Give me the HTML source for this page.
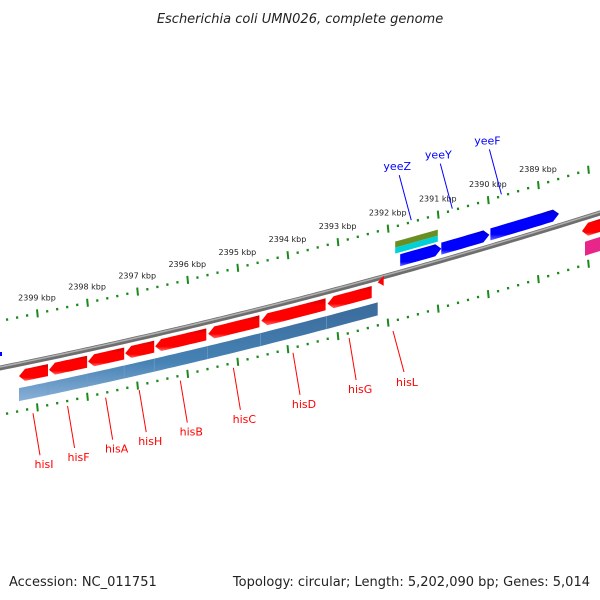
<!DOCTYPE html>
<html><head><meta charset="utf-8"><style>
body{margin:0;background:#fff;width:600px;height:600px;overflow:hidden}
svg{display:block;font-family:"DejaVu Sans","Liberation Sans",sans-serif}
</style></head><body>
<svg id="map" width="600" height="600" viewBox="0 0 600 600">
<defs>
<linearGradient id="gRed" x1="0" y1="0" x2="0" y2="1"><stop offset="0" stop-color="#c80000"/><stop offset="0.25" stop-color="#ff0000"/><stop offset="0.8" stop-color="#ff0000"/><stop offset="1" stop-color="#ff6a6a"/></linearGradient>
<linearGradient id="gBlue" x1="0" y1="0" x2="0" y2="1"><stop offset="0" stop-color="#0000c8"/><stop offset="0.25" stop-color="#0000ff"/><stop offset="0.8" stop-color="#0000ff"/><stop offset="1" stop-color="#6a6aff"/></linearGradient>
<linearGradient id="gSteel" x1="0" y1="0" x2="0" y2="1"><stop offset="0" stop-color="#3a6a9a"/><stop offset="0.6" stop-color="#4682b4"/><stop offset="1" stop-color="#8ab0d8"/></linearGradient>
</defs>
<text x="300" y="23" text-anchor="middle" font-size="13" font-style="italic" fill="#222">Escherichia coli UMN026, complete genome</text>
<text x="9" y="586" font-size="13" fill="#222">Accession: NC_011751</text>
<text x="590" y="586" text-anchor="end" font-size="13" fill="#222">Topology: circular; Length: 5,202,090 bp; Genes: 5,014</text>
<g id="layer"></g>
</svg>
<script>
// data
const revGeneNames = ["hisI","hisF","hisA","hisH","hisB","hisC","hisD","hisG"];
const revGeneStart = [2399.38,2398.78,2398.0,2397.26,2396.66,2395.6,2394.54,2393.22];
const revGeneEnd   = [2398.78,2398.0,2397.26,2396.66,2395.62,2394.56,2393.24,2392.32];
const fwdGeneNames = ["yeeZ","yeeY","yeeF"];
const fwdGeneStart = [2391.75,2390.93,2389.95];
const fwdGeneEnd   = [2390.93,2389.97,2388.58];
const tickLabels = [2399,2398,2397,2396,2395,2394,2393,2392,2391,2390,2389];

const NS="http://www.w3.org/2000/svg";
const layer=document.getElementById('layer');
const A=0.2017,B=0.0000944;
function xk(k){return 37+50.1*(2399-k);}
function yb(x){return 368-A*x-B*x*x;}
function mk(tag,attrs){const e=document.createElementNS(NS,tag);for(const k in attrs)e.setAttribute(k,attrs[k]);layer.appendChild(e);return e;}
function curvePts(x1,x2,o){const p=[];const n=Math.max(2,Math.ceil(Math.abs(x2-x1)/6));for(let i=0;i<=n;i++){const x=x1+(x2-x1)*i/n;p.push([x,yb(x)+o]);}return p;}
function band(x1,x2,o1,o2){const a=curvePts(x1,x2,o1),b=curvePts(x2,x1,o2);return a.concat(b).map(p=>p[0].toFixed(1)+","+p[1].toFixed(1)).join(" ");}
function arrowLeft(x1,x2,o1,o2){const t=6;const m=(o1+o2)/2;const a=curvePts(x1+t,x2,o1),b=curvePts(x2,x1+t,o2);const pts=a.concat(b);pts.push([x1,yb(x1)+m]);return pts.map(p=>p[0].toFixed(1)+","+p[1].toFixed(1)).join(" ");}
function arrowRight(x1,x2,o1,o2){const t=6;const m=(o1+o2)/2;const a=curvePts(x1,x2-t,o1);a.push([x2,yb(x2)+m]);const b=curvePts(x2-t,x1,o2);return a.concat(b).map(p=>p[0].toFixed(1)+","+p[1].toFixed(1)).join(" ");}

// backbone
const bb=curvePts(-5,605,0).map(p=>p.join(",")).join(" ");
let e=mk('polyline',{points:bb,fill:'none',stroke:'#6e6e6e','stroke-width':5});

e=mk('polyline',{points:curvePts(-5,605,-1).map(p=>p.join(",")).join(" "),fill:'none',stroke:'#b0b0b0','stroke-width':1.5});


// tick rings
function ring(off,name){
  for(let i=0;i<=70;i++){const k=2388+i*0.2;const x=xk(k);if(x<-5||x>605)continue;const y=yb(x)+off;const major=(i%5===0);
    const t=mk('line',{x1:x,y1:y-(major?4:1.2),x2:x+(major?0.8:0.3),y2:y+(major?4:1.2),stroke:'#1a8a1a','stroke-width':major?2:2.2});
    }
}
ring(-47,'outer-ring');ring(47,'inner-ring');
tickLabels.forEach(k=>{const x=xk(k);const t=mk('text',{x:x,y:yb(x)-60,'text-anchor':'middle','font-size':8,fill:'#222'});t.textContent=k+" kbp";
  });

// steel blue bar
let x1=xk(2399.36),x2=xk(2392.2);
e=mk('polygon',{points:band(x1,x2,24,37),fill:'url(#gSteel)'});

revGeneStart.forEach((s,i)=>{if(i===0)return;const x=xk(s);const l=mk('line',{x1:x,y1:yb(x)+24,x2:x,y2:yb(x)+37,stroke:'#6e9cc8','stroke-width':0.7});
  });

// reverse genes
revGeneNames.forEach((n,i)=>{const a=xk(revGeneStart[i]),b=xk(revGeneEnd[i]);
  const g=mk('polygon',{points:arrowLeft(a+1,b,6,18),fill:'url(#gRed)'});
  
  const mx=(a+b)/2;const ly=yb(mx)+52;
  const ln=mk('line',{x1:mx,y1:ly,x2:mx+7,y2:ly+42,stroke:'#f00','stroke-width':1});
  
  const t=mk('text',{x:mx+11,y:ly+55,'text-anchor':'middle','font-size':11,fill:'#f00'});t.textContent=n;
  });
// hisL small
{const x=xk(2392.2);const g=mk('polygon',{points:`${x},${yb(x)+4} ${x+6},${yb(x+6)-1} ${x+6},${yb(x+6)+9}`,fill:'#f00'});
 
 const ln=mk('line',{x1:393,y1:331,x2:404,y2:372,stroke:'#f00','stroke-width':1});
 const t=mk('text',{x:407,y:386,'text-anchor':'middle','font-size':11,fill:'#f00'});t.textContent='hisL';}

// forward genes
fwdGeneNames.forEach((n,i)=>{const a=xk(fwdGeneStart[i]),b=xk(fwdGeneEnd[i]);
  const g=mk('polygon',{points:arrowRight(a,b,-18,-6),fill:'url(#gBlue)'});
  
  const lx=a+11;const ly=yb(a)-52;
  const ln=mk('line',{x1:lx-12,y1:ly-45,x2:lx,y2:ly,stroke:'#0000ff','stroke-width':1});
  
  const t=mk('text',{x:lx-14,y:ly-50,'text-anchor':'middle','font-size':11,fill:'#0000ff'});t.textContent=n;
  });
// olive/cyan features
{const a=xk(2391.85),b=xk(2391.0);
 let g=mk('polygon',{points:band(a,b,-32,-26),fill:'#6b8e23'});
 g=mk('polygon',{points:band(a,b,-26,-20),fill:'#00d0d8'});}
// right edge genes
{const a=582,b=602;
 let g=mk('polygon',{points:arrowLeft(a,b,6,19),fill:'url(#gRed)'});
 g=mk('polygon',{points:band(585,602,24,38),fill:'#e8268a'});}
// left edge blue mark
e=mk('rect',{x:0,y:352,width:2,height:4,fill:'#00f'});
</script>
</body></html>
